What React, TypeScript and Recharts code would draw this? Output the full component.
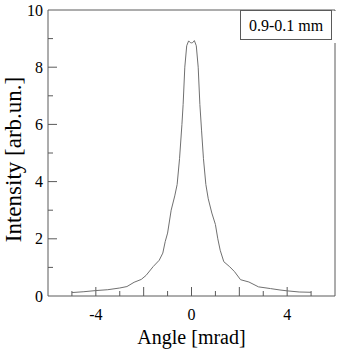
import { Line, LineChart, ReferenceLine, XAxis, YAxis } from "recharts";

const angles = [
  -5.0, -4.5, -4.0, -3.5, -3.0, -2.7, -2.4, -2.1, -1.9, -1.6, -1.35, -1.2, -1.1, -1.0,
  -0.85, -0.7, -0.6, -0.5, -0.4, -0.35, -0.28, -0.2, -0.12, -0.05, 0.0, 0.05, 0.12, 0.2,
  0.28, 0.35, 0.42, 0.5, 0.6, 0.7, 0.85, 1.0, 1.1, 1.2, 1.35, 1.6, 1.8, 2.05, 2.4, 2.8,
  3.3, 3.7, 4.0, 4.5, 5.0,
];
const intensity = [
  0.12, 0.15, 0.19, 0.22, 0.28, 0.33, 0.48, 0.58, 0.72, 1.03, 1.25, 1.5, 1.9, 2.2,
  3.0, 3.5, 3.9, 4.8, 6.0, 6.7, 8.0, 8.75, 8.92, 8.86, 8.85, 8.86, 8.93, 8.75,
  8.0, 6.7, 5.8, 4.8, 3.9, 3.4, 2.9, 2.5, 2.0, 1.6, 1.2, 1.02, 0.85, 0.57, 0.49, 0.32,
  0.26, 0.21, 0.18, 0.14, 0.13,
];
const xTicks = [-5, -4, -3, -2, -1, 0, 1, 2, 3, 4, 5];
const xLabelTicks = [-4, 0, 4];
const yTicks = [1, 2, 3, 4, 5, 6, 7, 8, 9];
const yLabelTicks = [0, 2, 4, 6, 8, 10];
const legendText = "0.9-0.1 mm";

const xDomain = [-6, 6];
const yDomain = [0, 10];

const data = angles.map((a, i) => ({ a, v: intensity[i] }));

const axisColor = "#5a5a5a";
const font = "'Liberation Serif', 'Times New Roman', serif";

// inward tick marks: 9px major, 5px minor, converted to data units (plot is 287 x 286 px)
const xUnitPerPx = (xDomain[1] - xDomain[0]) / 287;
const yUnitPerPx = (yDomain[1] - yDomain[0]) / 286;
const tickLen = (v: number) => (Math.abs(v) % 2 === 0 ? 9 : 5);

const XTitle = (props: any) => {
  const { viewBox } = props;
  return (
    <text
      x={viewBox.x + viewBox.width / 2}
      y={viewBox.y + viewBox.height}
      textAnchor="middle"
      fontSize={20}
      fill="#000"
      fontFamily={font}
    >
      Angle [mrad]
    </text>
  );
};

export default function App() {
  return (
    <div
      style={{
        position: "absolute",
        left: 0,
        top: 0,
        width: 343,
        height: 349,
        background: "#fff",
        fontFamily: font,
      }}
    >
      <LineChart
        width={343}
        height={349}
        data={data}
        margin={{ top: 10, right: 8, left: 8, bottom: 5.5 }}
      >
        <XAxis
          dataKey="a"
          type="number"
          domain={xDomain}
          ticks={xTicks}
          interval={0}
          height={47.5}
          tickSize={0}
          tickMargin={13}
          tickLine={false}
          tickFormatter={(v: number) => (xLabelTicks.includes(v) ? String(v) : "")}
          tick={{ fontSize: 16, fill: "#000", fontFamily: font }}
          axisLine={{ stroke: axisColor }}
          label={<XTitle />}
        />
        <YAxis
          type="number"
          domain={yDomain}
          ticks={yLabelTicks}
          interval={0}
          width={40}
          tickSize={0}
          tickMargin={5}
          tickLine={false}
          tick={{ fontSize: 16, fill: "#000", fontFamily: font }}
          axisLine={{ stroke: axisColor }}
        />
        {xTicks.map((t) => (
          <ReferenceLine
            key={`xt${t}`}
            segment={[
              { x: t, y: yDomain[0] },
              { x: t, y: yDomain[0] + tickLen(t) * yUnitPerPx },
            ]}
            stroke={axisColor}
          />
        ))}
        {yTicks.map((t) => (
          <ReferenceLine
            key={`yt${t}`}
            segment={[
              { x: xDomain[0], y: t },
              { x: xDomain[0] + tickLen(t) * xUnitPerPx, y: t },
            ]}
            stroke={axisColor}
          />
        ))}
        <ReferenceLine y={yDomain[1]} stroke={axisColor} />
        <ReferenceLine x={xDomain[1]} stroke={axisColor} />
        <Line
          type="linear"
          dataKey="v"
          stroke="#707070"
          strokeWidth={1}
          dot={false}
          isAnimationActive={false}
        />
      </LineChart>
      <svg
        width={343}
        height={349}
        style={{ position: "absolute", left: 0, top: 0, pointerEvents: "none" }}
      >
        <rect x={241} y={11} width={96} height={32} fill="#fff" />
        <rect x={240.5} y={10.5} width={91} height={29} fill="#fff" stroke={axisColor} />
        <text x={286} y={31} textAnchor="middle" fontSize={16} fontFamily={font} fill="#000">
          {legendText}
        </text>
        <text
          transform="translate(21,159.5) rotate(-90)"
          textAnchor="middle"
          fontSize={23}
          fontFamily={font}
          fill="#000"
        >
          Intensity [arb.un.]
        </text>
      </svg>
    </div>
  );
}
